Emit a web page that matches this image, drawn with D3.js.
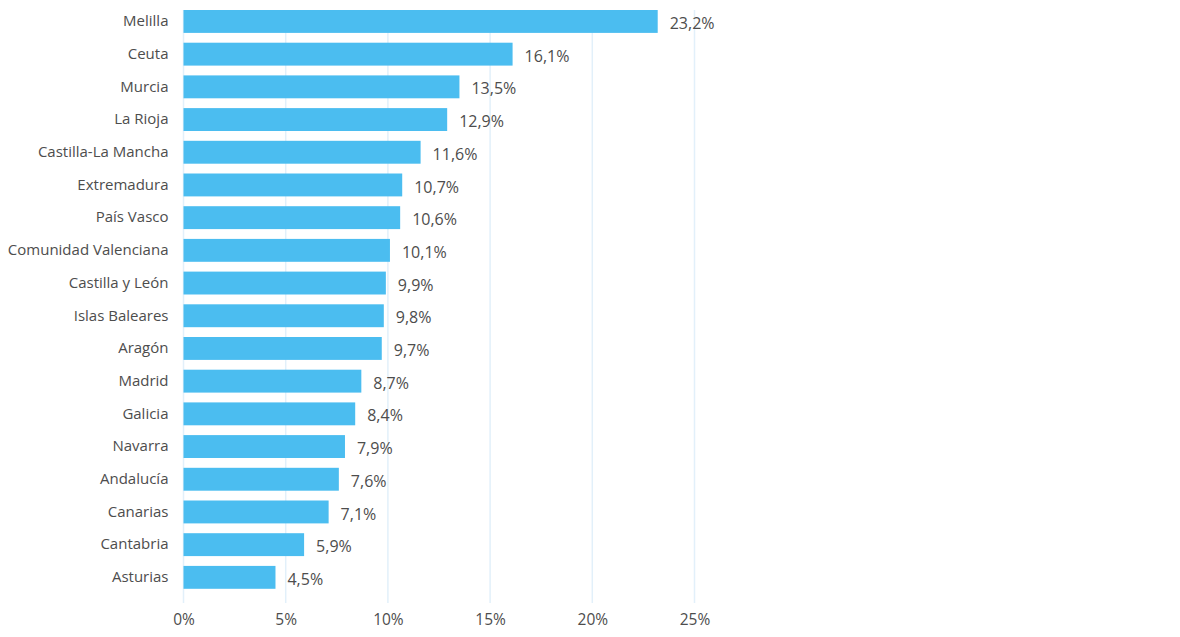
<!DOCTYPE html>
<html>
<head>
<meta charset="utf-8">
<script src="https://cdn.jsdelivr.net/npm/d3@7"></script>
<style>
  body { margin: 0; background: #fff; }
  text { font-family: "Open Sans", "Noto Sans", sans-serif; fill: #4d4d4d; }
</style>
</head>
<body>
<div class="chart"></div>
<script>
// regions, top to bottom
var regions = ["Melilla", "Ceuta", "Murcia", "La Rioja", "Castilla-La Mancha", "Extremadura",
    "País Vasco", "Comunidad Valenciana", "Castilla y León", "Islas Baleares", "Aragón",
    "Madrid", "Galicia", "Navarra", "Andalucía", "Canarias", "Cantabria", "Asturias"];
// percentages
var values = [23.2, 16.1, 13.5, 12.9, 11.6, 10.7, 10.6, 10.1, 9.9, 9.8, 9.7, 8.7, 8.4, 7.9, 7.6, 7.1, 5.9, 4.5];
var xTicks = [0, 5, 10, 15, 20, 25];

var width = 1180, height = 637;
var plotLeft = 183.5, plotRight = 694.5;
var plotTop = 5.1, plotBottom = 593.7;

var data = regions.map(function (r, i) {
    return { region: r, value: values[i] };
});

var fmt = function (v) { return d3.format(".1f")(v).replace(".", ",") + "%"; };

var svg = d3.select(".chart").append("svg")
    .attr("width", width)
    .attr("height", height);

var xScale = d3.scaleLinear().domain([0, 25]).range([plotLeft, plotRight]);
var yScale = d3.scaleBand().domain(regions).range([plotTop, plotBottom])
    .paddingInner(0.3).paddingOuter(0.15);

// vertical grid
svg.selectAll(".grid")
    .data(xTicks)
    .enter().append("line")
    .attr("class", "grid")
    .attr("x1", function (d) { return xScale(d); })
    .attr("x2", function (d) { return xScale(d); })
    .attr("y1", 10)
    .attr("y2", 603)
    .style("stroke", "#e2f0fa")
    .style("stroke-width", 1.5);

// x axis labels
var xAxis = d3.axisBottom(xScale).tickValues(xTicks)
    .tickSize(0).tickPadding(0)
    .tickFormat(function (d) { return d + "%"; });

svg.append("g")
    .attr("class", "x axis")
    .attr("transform", "translate(0,614)")
    .call(xAxis)
    .call(function (g) { g.select(".domain").remove(); })
    .selectAll("text")
    .style("font-size", "15.5px")
    .style("fill", "#4d4d4d");

// y axis labels
var yAxis = d3.axisLeft(yScale).tickSize(0).tickPadding(15);

svg.append("g")
    .attr("class", "y axis")
    .attr("transform", "translate(" + plotLeft + ",0)")
    .call(yAxis)
    .call(function (g) { g.select(".domain").remove(); })
    .selectAll("text")
    .style("font-size", "15px")
    .style("fill", "#4d4d4d");

// bars
svg.selectAll(".bar")
    .data(data)
    .enter().append("rect")
    .attr("class", "bar")
    .attr("x", xScale(0))
    .attr("y", function (d) { return yScale(d.region); })
    .attr("width", function (d) { return xScale(d.value) - xScale(0); })
    .attr("height", yScale.bandwidth())
    .style("fill", "#4bbdf0");

// value labels
svg.selectAll(".value")
    .data(data)
    .enter().append("text")
    .attr("class", "value")
    .attr("x", function (d) { return xScale(d.value) + 12; })
    .attr("y", function (d) { return yScale(d.region) + yScale.bandwidth() / 2 + 2; })
    .attr("dy", ".35em")
    .style("font-size", "16px")
    .text(function (d) { return fmt(d.value); });
</script>
</body>
</html>
